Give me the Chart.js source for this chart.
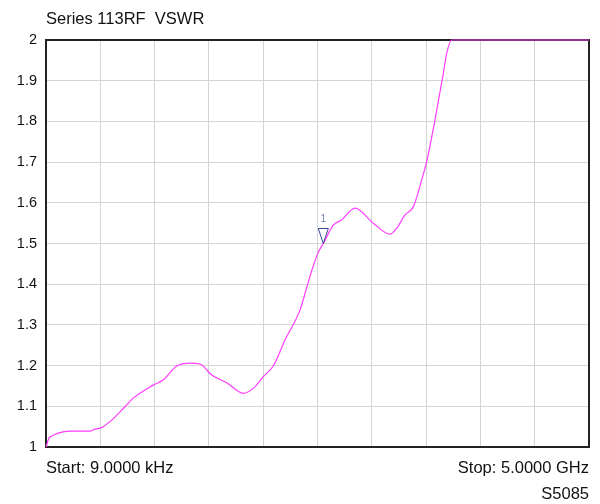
<!DOCTYPE html>
<html>
<head>
<meta charset="utf-8">
<script src="https://cdn.jsdelivr.net/npm/chart.js@4/dist/chart.umd.min.js"></script>
<style>
    html, body { margin: 0; padding: 0; background: #fff; }
    #wrap { width: 600px; height: 504px; position: relative; }
</style>
</head>
<body>
<div id="wrap"><canvas id="vswrChart" width="600" height="504"></canvas></div>
<script>
// 数据
const freqGHz = [0.009, 0.037, 0.064, 0.119, 0.230, 0.413, 0.459, 0.515, 0.613, 0.735,
    0.811, 0.995, 1.087, 1.210, 1.333, 1.424, 1.532, 1.670, 1.822, 1.914,
    2.006, 2.098, 2.206, 2.344, 2.436, 2.509, 2.558, 2.650, 2.727, 2.849,
    3.017, 3.171, 3.232, 3.308, 3.385, 3.462, 3.508, 3.584, 3.661, 3.692,
    3.738, 5.000];
const vswr = [1.000, 1.022, 1.027, 1.034, 1.039, 1.039, 1.044, 1.047, 1.066, 1.099,
    1.120, 1.152, 1.165, 1.199, 1.206, 1.204, 1.177, 1.158, 1.132, 1.144,
    1.173, 1.199, 1.263, 1.337, 1.420, 1.477, 1.500, 1.545, 1.558, 1.587,
    1.550, 1.523, 1.537, 1.570, 1.590, 1.656, 1.701, 1.803, 1.918, 1.967,
    2.000, 2.000];
const yTicks = [1, 1.1, 1.2, 1.3, 1.4, 1.5, 1.6, 1.7, 1.8, 1.9, 2];
const markerLabels = ['1'];
const markerFreq = [2.558];
const markerVswr = [1.500];

const titleText = 'Series 113RF  VSWR';
const startText = 'Start: 9.0000 kHz';
const stopText = 'Stop: 5.0000 GHz';
const modelText = 'S5085';

const FONT = '"Liberation Sans", Arial, sans-serif';

// 边框（画在曲线下面）
const framePlugin = {
    id: 'frame',
    beforeDatasetsDraw(chart) {
        const ctx = chart.ctx;
        const area = chart.chartArea;
        ctx.save();
        ctx.strokeStyle = '#222';
        ctx.lineWidth = 2;
        ctx.strokeRect(area.left, area.top, area.right - area.left, area.bottom - area.top);
        ctx.restore();
    }
};

// 标记和文字
const annotatePlugin = {
    id: 'annotate',
    afterDatasetsDraw(chart) {
        const ctx = chart.ctx;
        const area = chart.chartArea;
        const xs = chart.scales.x;
        const ys = chart.scales.y;
        ctx.save();
        markerFreq.forEach((f, i) => {
            const px = xs.getPixelForValue(f);
            const py = ys.getPixelForValue(markerVswr[i]);
            ctx.beginPath();
            ctx.moveTo(px, py);
            ctx.lineTo(px - 5, py - 15);
            ctx.lineTo(px + 5, py - 15);
            ctx.closePath();
            ctx.strokeStyle = '#3a4890';
            ctx.lineWidth = 1;
            ctx.stroke();
            ctx.fillStyle = '#7080b0';
            ctx.font = '10px ' + FONT;
            ctx.textAlign = 'center';
            ctx.textBaseline = 'alphabetic';
            ctx.fillText(markerLabels[i], px, py - 22);
        });

        ctx.fillStyle = '#111';
        ctx.font = '16.5px ' + FONT;
        ctx.textAlign = 'left';
        ctx.textBaseline = 'alphabetic';
        ctx.fillText(titleText, area.left, 24);
        ctx.fillText(startText, area.left, 473);
        ctx.textAlign = 'right';
        ctx.fillText(stopText, area.right, 473);
        ctx.fillText(modelText, area.right, 499);
        ctx.restore();
    }
};

const ctx = document.getElementById('vswrChart').getContext('2d');
const vswrChart = new Chart(ctx, {
    type: 'line',
    data: {
        datasets: [{
            label: 'VSWR',
            data: freqGHz.map((f, i) => ({ x: f, y: vswr[i] })),
            borderColor: '#ff3cff',
            borderWidth: 1.2,
            pointRadius: 0,
            tension: 0.25,
            cubicInterpolationMode: 'monotone',
            fill: false,
            clip: 2
        }]
    },
    options: {
        responsive: false,
        animation: false,
        layout: { padding: { left: 0, top: 40, right: 11, bottom: 57 } },
        plugins: {
            legend: { display: false },
            tooltip: { enabled: false },
            title: { display: false }
        },
        scales: {
            x: {
                type: 'linear',
                min: 0.009,
                max: 5,
                afterBuildTicks(scale) {
                    const ticks = [];
                    for (let i = 0; i <= 10; i++) {
                        ticks.push({ value: 0.009 + (5 - 0.009) * i / 10 });
                    }
                    scale.ticks = ticks;
                },
                afterFit(scale) { scale.height = 0; },
                ticks: { display: false },
                grid: { color: '#d4d4d4', lineWidth: 1, drawTicks: false },
                border: { display: false }
            },
            y: {
                min: 1,
                max: 2,
                afterBuildTicks(scale) {
                    scale.ticks = yTicks.map(v => ({ value: v }));
                },
                afterFit(scale) { scale.width = 46; },
                ticks: {
                    color: '#111',
                    padding: 9,
                    font: { family: FONT, size: 14.5 },
                    callback: v => String(+v.toFixed(1))
                },
                grid: { color: '#d4d4d4', lineWidth: 1, drawTicks: false },
                border: { display: false }
            }
        }
    },
    plugins: [framePlugin, annotatePlugin]
});
</script>
</body>
</html>
